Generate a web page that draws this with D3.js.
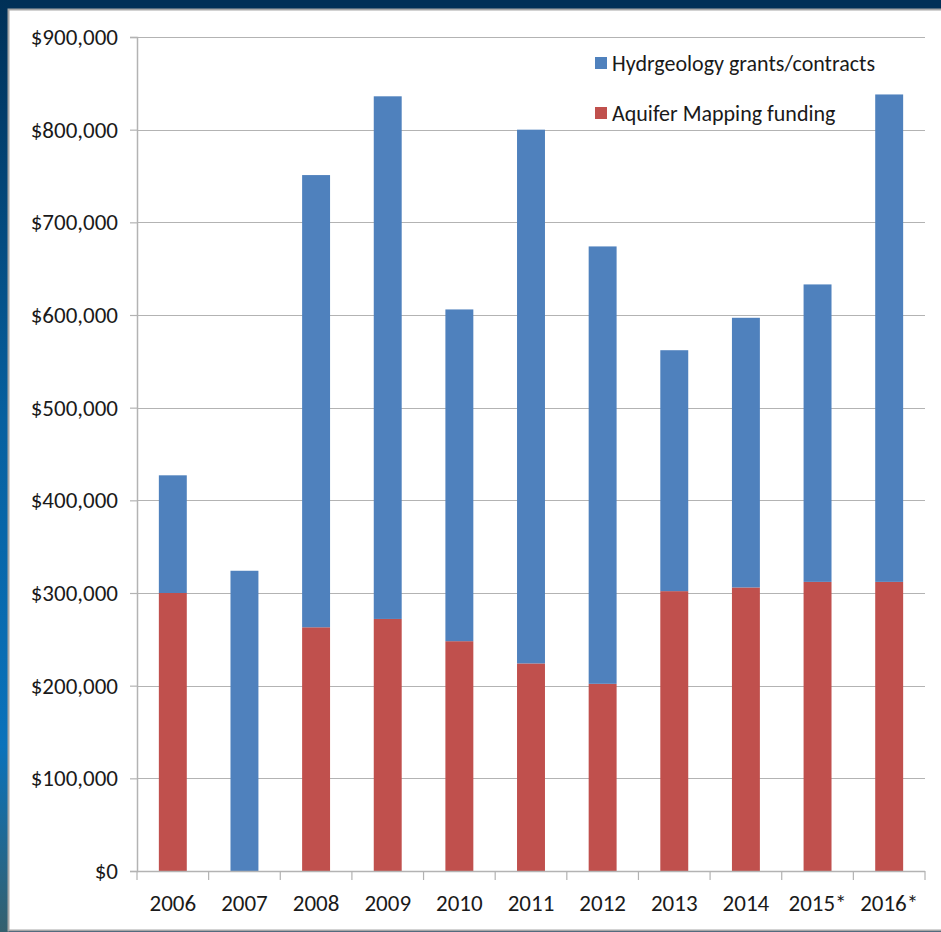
<!DOCTYPE html>
<html>
<head>
<meta charset="utf-8">
<script src="https://cdn.jsdelivr.net/npm/d3@7.9.0/dist/d3.min.js"></script>
<style>
  html, body { margin: 0; padding: 0; background: #003057; }
  svg { display: block; }
  text { font-family: Carlito, Calibri, Lato, "Open Sans", sans-serif; fill: #1a1a1a; }
</style>
</head>
<body>
<svg id="chart" width="941" height="932"></svg>
<script>
// data
const years = ['2006', '2007', '2008', '2009', '2010', '2011', '2012', '2013', '2014', '2015*', '2016*'];
const mapping = [300000, 0, 263000, 272000, 248000, 224000, 202000, 302000, 306000, 312000, 312000];
const grants = [127000, 324000, 488000, 564000, 358000, 576000, 472000, 260000, 291000, 321000, 526000];
const seriesNames = ['Hydrgeology grants/contracts', 'Aquifer Mapping funding'];
const seriesColors = ['#4f81bd', '#c0504d'];
const yTicks = [0, 100000, 200000, 300000, 400000, 500000, 600000, 700000, 800000, 900000];

const svg = d3.select('#chart');

// slide background
let grad = svg.append('defs').append('linearGradient')
    .attr('id', 'side').attr('x1', 0).attr('y1', 0).attr('x2', 0).attr('y2', 1);
grad.append('stop').attr('offset', '0%').attr('stop-color', '#003057');
grad.append('stop').attr('offset', '45%').attr('stop-color', '#07609f');
grad.append('stop').attr('offset', '80%').attr('stop-color', '#0a72bb');
grad.append('stop').attr('offset', '100%').attr('stop-color', '#35606e');
svg.append('rect').attr('width', 941).attr('height', 932).attr('fill', '#003057');
svg.append('rect').attr('x', 0).attr('y', 0).attr('width', 9).attr('height', 932).attr('fill', 'url(#side)');
svg.append('rect').attr('x', 8.5).attr('y', 9.5).attr('width', 940).attr('height', 921)
    .attr('fill', '#fff').attr('stroke', '#a6a6a6').attr('stroke-width', 2);

const plotL = 137, plotR = 925, plotT = 37, plotB = 871;

let x = d3.scaleBand().domain(years).range([plotL, plotR]).paddingInner(0.61).paddingOuter(0.305);
let xb = d3.scaleBand().domain(years).range([plotL, plotR]);
let y = d3.scaleLinear().domain([0, 900000]).range([plotB, plotT]);

// gridlines
svg.append('g').selectAll('line').data(yTicks.filter(d => d > 0)).join('line')
    .attr('x1', plotL).attr('x2', plotR)
    .attr('y1', d => Math.round(y(d)) + 0.5).attr('y2', d => Math.round(y(d)) + 0.5)
    .attr('stroke', '#b3b3b3').attr('stroke-width', 1.2);

// stacked bars
let stack = d3.stack().keys(['mapping', 'grants'])(years.map((yr, i) => ({ yr, mapping: mapping[i], grants: grants[i] })));
let colorFor = { mapping: seriesColors[1], grants: seriesColors[0] };
stack.forEach(layer => {
    svg.append('g').selectAll('rect').data(layer).join('rect')
        .attr('x', d => x(d.data.yr))
        .attr('width', x.bandwidth())
        .attr('y', d => y(d[1]))
        .attr('height', d => y(d[0]) - y(d[1]))
        .attr('fill', colorFor[layer.key]);
});

// y axis
let yAxis = svg.append('g').attr('transform', `translate(${plotL},0)`)
    .call(d3.axisLeft(y).tickValues(yTicks).tickSize(7).tickPadding(12)
        .tickFormat(d => '$' + d3.format(',')(d)));
yAxis.select('.domain').attr('stroke', '#b3b3b3').attr('stroke-width', 1.5);
yAxis.selectAll('.tick line').attr('stroke', '#b3b3b3').attr('stroke-width', 1.2);
yAxis.selectAll('text').attr('font-size', 23).attr('fill', '#111');

// x axis with ticks on category boundaries
let xg = svg.append('g');
xg.append('line').attr('x1', plotL).attr('x2', plotR).attr('y1', plotB + 0.5).attr('y2', plotB + 0.5)
    .attr('stroke', '#b3b3b3').attr('stroke-width', 1.5);
xg.selectAll('line.tk').data(years.concat(['end'])).join('line').attr('class', 'tk')
    .attr('x1', (d, i) => plotL + i * xb.step()).attr('x2', (d, i) => plotL + i * xb.step())
    .attr('y1', plotB).attr('y2', plotB + 9)
    .attr('stroke', '#b3b3b3').attr('stroke-width', 1.2);
xg.selectAll('text').data(years).join('text')
    .attr('x', d => xb(d) + xb.bandwidth() / 2)
    .attr('y', 911)
    .attr('text-anchor', 'middle')
    .attr('font-size', 23)
    .attr('fill', '#111')
    .text(d => d);

// legend
let legend = svg.append('g');
seriesNames.forEach((name, i) => {
    let ly = 63 + i * 50;
    legend.append('rect').attr('x', 595).attr('y', ly - 6).attr('width', 12).attr('height', 12)
        .attr('fill', seriesColors[i]);
    legend.append('text').attr('x', 612).attr('y', ly + 8).attr('font-size', 22)
        .attr('fill', '#111').text(name);
});
</script>
</body>
</html>
